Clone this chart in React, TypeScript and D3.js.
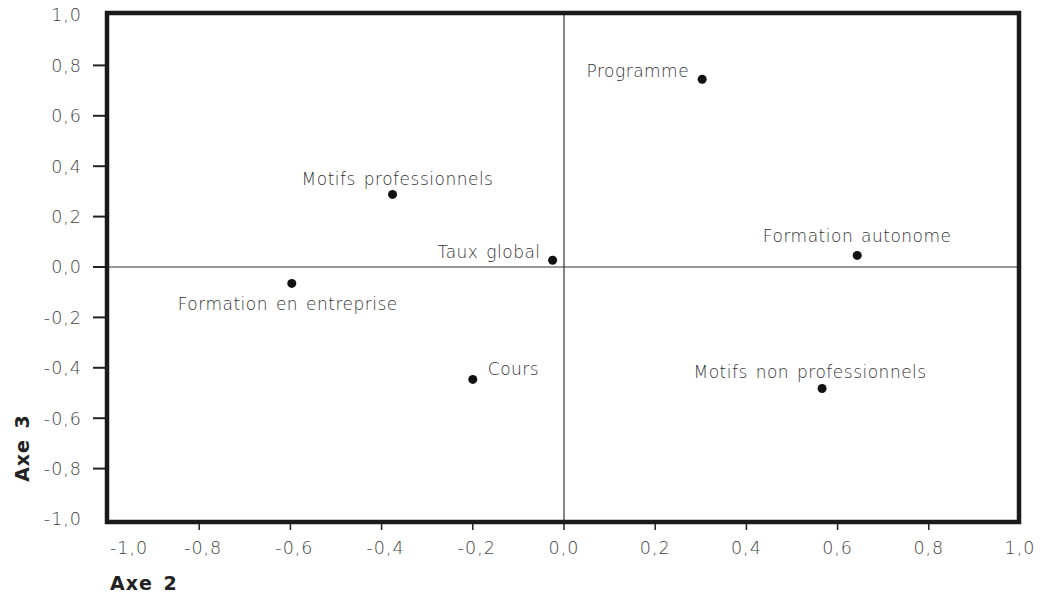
import React from "react";
import * as d3 from "d3";

const labels = [
  "Programme",
  "Motifs professionnels",
  "Taux global",
  "Formation autonome",
  "Formation en entreprise",
  "Cours",
  "Motifs non professionnels",
];
const axe2 = [0.303, -0.376, -0.025, 0.643, -0.597, -0.2, 0.566];
const axe3 = [0.745, 0.288, 0.027, 0.046, -0.065, -0.446, -0.482];
const tickValues = [-1, -0.8, -0.6, -0.4, -0.2, 0, 0.2, 0.4, 0.6, 0.8, 1];

// label placement relative to each dot (style, not data)
const placement = [
  { anchor: "end", dx: -13, dy: -2 },
  { anchor: "middle", dx: 5, dy: -9 },
  { anchor: "end", dx: -12, dy: -2 },
  { anchor: "middle", dx: 0, dy: -13 },
  { anchor: "middle", dx: -4, dy: 27 },
  { anchor: "start", dx: 15, dy: -4 },
  { anchor: "middle", dx: -12, dy: -10 },
];

const fmt = (v: number) => {
  const s = Math.abs(v).toFixed(1).replace(".", ",");
  return (v < -1e-9 ? "-" : "") + s;
};

export default function App() {
  const W = 1040;
  const H = 595;
  const x = d3.scaleLinear().domain([-1, 1]).range([108, 1020]);
  const y = d3.scaleLinear().domain([-1, 1]).range([519, 15]);
  const font = "'DejaVu Sans', sans-serif";
  const frameTop = 13;
  const frameBottom = 522;
  const frameLeft = 107;
  const frameRight = 1019;

  return (
    <svg
      width={W}
      height={H}
      style={{ position: "absolute", left: 0, top: 0, background: "#fff" }}
    >
      <rect x={0} y={0} width={W} height={H} fill="#fff" />
      {/* zero lines */}
      <line x1={frameLeft} x2={frameRight} y1={y(0)} y2={y(0)} stroke="#333" strokeWidth={1.2} />
      <line x1={x(0)} x2={x(0)} y1={frameTop} y2={frameBottom} stroke="#333" strokeWidth={1.2} />
      {/* y ticks */}
      {tickValues.map((v) => (
        <g key={"y" + v}>
          {Math.abs(v) < 0.99 && (
            <line x1={93} x2={frameLeft} y1={y(v)} y2={y(v)} stroke="#222" strokeWidth={2} />
          )}
          <text
            x={82}
            y={y(v)}
            dy="0.36em"
            textAnchor="end"
            fontFamily={font}
            fontSize={17.5}
            fontWeight={300}
            letterSpacing={1}
            fill="#444"
          >
            {fmt(v)}
          </text>
        </g>
      ))}
      {/* x ticks */}
      {tickValues.map((v, i) => (
        <g key={"x" + v}>
          {Math.abs(v) < 0.99 && (
            <line x1={x(v)} x2={x(v)} y1={frameBottom} y2={530} stroke="#222" strokeWidth={1.5} />
          )}
          <text
            x={i === 0 ? x(v) + 2 : x(v) + (v < 0 ? 4 : 0)}
            y={554}
            textAnchor={i === 0 ? "start" : "middle"}
            fontFamily={font}
            fontSize={17.5}
            fontWeight={300}
            letterSpacing={1}
            fill="#444"
          >
            {fmt(v)}
          </text>
        </g>
      ))}
      {/* frame */}
      <rect
        x={frameLeft}
        y={frameTop}
        width={frameRight - frameLeft}
        height={frameBottom - frameTop}
        fill="none"
        stroke="#1a1a1a"
        strokeWidth={4.5}
      />
      {/* points */}
      {labels.map((lab, i) => {
        const px = x(axe2[i]);
        const py = y(axe3[i]);
        const p = placement[i];
        return (
          <g key={lab}>
            <circle cx={px} cy={py} r={4.5} fill="#111" />
            <text
              x={px + p.dx}
              y={py + p.dy}
              textAnchor={p.anchor as any}
              fontFamily={font}
              fontSize={17}
              fontWeight={300}
              letterSpacing={0.5}
              wordSpacing={2}
              fill="#333"
            >
              {lab}
            </text>
          </g>
        );
      })}
      {/* axis titles */}
      <text
        x={110}
        y={590}
        fontFamily={font}
        fontSize={19}
        fontWeight={900}
        letterSpacing={1}
        wordSpacing={3}
        fill="#222"
      >
        Axe 2
      </text>
      <text
        transform={`translate(29,448) rotate(-90)`}
        textAnchor="middle"
        fontFamily={font}
        fontSize={19}
        fontWeight={900}
        letterSpacing={1}
        wordSpacing={3}
        fill="#222"
      >
        Axe 3
      </text>
    </svg>
  );
}
